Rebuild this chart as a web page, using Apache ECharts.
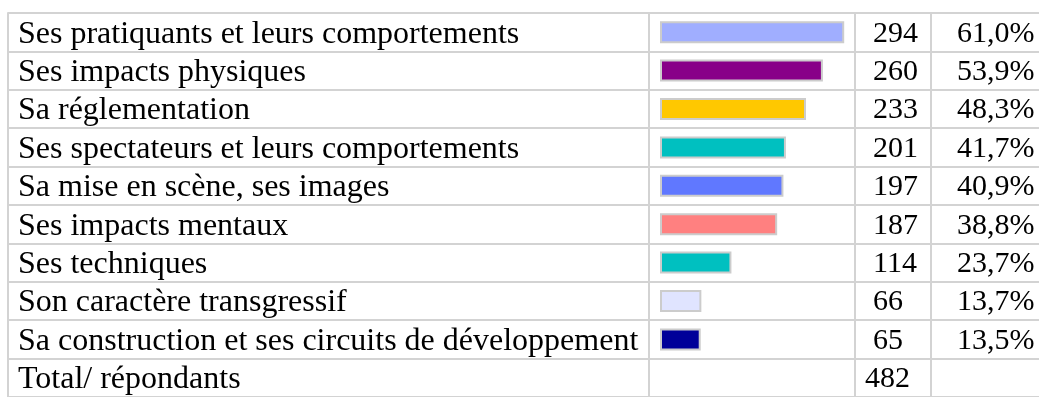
<!DOCTYPE html>
<html>
<head>
<meta charset="utf-8">
<style>
  html, body { margin: 0; padding: 0; background: #fff; }
  #chart { width: 1039px; height: 397px; }
</style>
<script src="https://cdn.jsdelivr.net/npm/echarts@6/dist/echarts.min.js"></script>
</head>
<body>
<div id="chart"></div>
<script>
// Row labels of the table (last row is the total of respondents)
const categories = [
  'Ses pratiquants et leurs comportements',
  'Ses impacts physiques',
  'Sa réglementation',
  'Ses spectateurs et leurs comportements',
  'Sa mise en scène, ses images',
  'Ses impacts mentaux',
  'Ses techniques',
  'Son caractère transgressif',
  'Sa construction et ses circuits de développement',
  'Total/ répondants'
];
// Number of answers per item
const counts = [294, 260, 233, 201, 197, 187, 114, 66, 65];
// Share of respondents per item
const percents = ['61,0%', '53,9%', '48,3%', '41,7%', '40,9%', '38,8%', '23,7%', '13,7%', '13,5%'];
// Total number of respondents
const totalRespondents = 482;
// Fill colour of each bar
const barColors = ['#a0aeff', '#880088', '#ffc800', '#00c0c0', '#6078ff', '#ff8080', '#00c0c0', '#e0e4ff', '#000099'];

const FONT = "'Liberation Serif', 'Times New Roman', serif";
const RULE = '#d3d3d3';
const ROW_H = 38.8;
const TABLE_TOP = 13;
const TABLE_LEFT = 8;
const nRows = categories.length;

const countLabels = counts.map(String).concat([String(totalRespondents)]);
const pctLabels = percents.concat(['']);

function txt(size, pad) {
  return { fontFamily: FONT, fontSize: size, color: '#000', padding: pad };
}

// Vertical column rule placed at an absolute x position, drawn as an axis line
function columnRule(x, labels, labelX, rich, fmt) {
  return {
    type: 'category', gridIndex: 0, inverse: true, position: 'left',
    data: labels || categories.map(() => ''),
    offset: TABLE_LEFT - x,
    axisLine: { show: true, lineStyle: { color: RULE, width: 2 } },
    axisTick: { show: false },
    splitLine: { show: false },
    axisLabel: labels ? {
      show: true, interval: 0, align: 'left', margin: x - labelX,
      fontFamily: FONT, fontSize: 30, color: '#000',
      rich: rich, formatter: fmt
    } : { show: false }
  };
}

const option = {
  animation: false,
  grid: [
    { left: TABLE_LEFT, top: TABLE_TOP, width: 1100, height: ROW_H * nRows },
    { left: 660, top: TABLE_TOP, width: 302, height: ROW_H * nRows }
  ],
  xAxis: [
    { type: 'value', gridIndex: 0, show: false },
    { type: 'value', gridIndex: 1, min: 0, max: totalRespondents, show: false }
  ],
  yAxis: [
    {
      type: 'category', gridIndex: 0, inverse: true, data: categories,
      axisLine: { show: true, lineStyle: { color: RULE, width: 2 } },
      axisTick: { show: false },
      splitLine: { show: true, lineStyle: { color: RULE, width: 2 } },
      axisLabel: {
        interval: 0, align: 'left', margin: -10,
        fontFamily: FONT, fontSize: 32, color: '#000',
        rich: { a: txt(32, [4, 0, 0, 0]) },
        formatter: (v) => '{a|' + v + '}'
      }
    },
    columnRule(649),
    columnRule(855, countLabels, 865,
      { n: txt(30, [3, 0, 0, 8]), t: txt(30, [3, 0, 0, 0]) },
      (v, i) => (i === nRows - 1 ? '{t|' + v + '}' : '{n|' + v + '}')),
    columnRule(931, pctLabels, 957,
      { p: txt(30, [3, 0, 0, 0]) },
      (v) => (v ? '{p|' + v + '}' : '')),
    {
      type: 'category', gridIndex: 1, inverse: true, data: categories, show: false
    }
  ],
  series: [
    {
      type: 'bar',
      xAxisIndex: 1,
      yAxisIndex: 4,
      barWidth: 22,
      data: counts.map((v, i) => ({
        value: v,
        itemStyle: { color: barColors[i], borderColor: '#cccccc', borderWidth: 2 }
      })),
      silent: true
    }
  ]
};

const chart = echarts.init(document.getElementById('chart'), null, { renderer: 'canvas' });
chart.setOption(option);
</script>
</body>
</html>
